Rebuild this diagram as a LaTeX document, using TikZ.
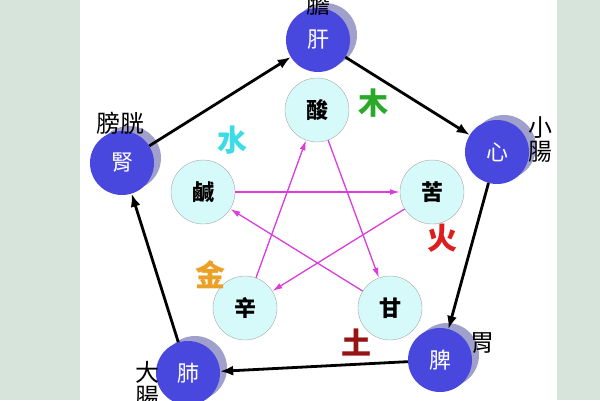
\documentclass[tikz,border=0pt]{standalone}
\usepackage{fontspec}
\newfontfamily\cjk{Noto Sans CJK TC}
\usetikzlibrary{arrows.meta}
\definecolor{organ}{RGB}{72,72,222}
\definecolor{organside}{RGB}{160,160,205}
\definecolor{taste}{RGB}{214,250,250}
\definecolor{stripe}{RGB}{214,228,220}
\definecolor{star}{RGB}{220,60,220}
\tikzset{
  organnode/.style={circle,minimum size=64pt,inner sep=0pt,fill=organ,text=white,
    font=\cjk\fontsize{22}{22}\selectfont,
    preaction={fill=organside,transform canvas={shift={(7pt,5pt)}}}},
  tastenode/.style={circle,minimum size=64pt,inner sep=0pt,draw=gray!70,fill=taste,
    font=\cjk\bfseries\fontsize{22}{22}\selectfont},
  element/.style={font=\cjk\bfseries\fontsize{30}{30}\selectfont},
  side/.style={font=\cjk\fontsize{24}{24}\selectfont,inner sep=0pt},
  cycle/.style={line width=2.8pt,-{Latex[length=13pt,width=10pt]}},
  check/.style={line width=1.3pt,star,-{Latex[length=10pt,width=6pt]}}
}
\begin{document}
\begin{tikzpicture}[x=1pt,y=-1pt]
\useasboundingbox (0,0) rectangle (600,400);
\fill[stripe] (0,0) rectangle (80,400);
\fill[stripe] (557,0) rectangle (600,400);
% organs
\node[organnode] (gan) at (318,40) {肝};
\node[organnode] (xin) at (497,152) {心};
\node[organnode] (pi) at (440,360) {脾};
\node[organnode] (fei) at (188,373) {肺};
\node[organnode] (shen) at (122,163) {腎};
\node[side] (dan) at (318,4) {膽};
\node[side,align=center] (xc) at (540,140) {小\\腸};
\node[side] (wei) at (482,343) {胃};
\node[side,align=center] (dc) at (147,384) {大\\腸};
\node[side] (pg) at (120,123) {膀胱};
% tastes
\node[tastenode] (suan) at (317,110) {酸};
\node[tastenode] (ku) at (432,192) {苦};
\node[tastenode] (gan2) at (390,308) {甘};
\node[tastenode] (xinw) at (245,308) {辛};
\node[tastenode] (xian) at (203,192) {鹹};
\node[element,text={rgb,255:red,40;green,170;blue,40}] (mu) at (373,103) {木};
\node[element,text={rgb,255:red,60;green,220;blue,230}] (shui) at (232,140) {水};
\node[element,text={rgb,255:red,220;green,30;blue,30}] (huo) at (442,238) {火};
\node[element,text={rgb,255:red,235;green,160;blue,40}] (jin) at (210,275) {金};
\node[element,text={rgb,255:red,150;green,20;blue,20}] (tu) at (356,342) {土};
% generating cycle
\draw[cycle] (gan) -- (xin);
\draw[cycle] (xin) -- (pi);
\draw[cycle] (pi) -- (fei);
\draw[cycle] (fei) -- (shen);
\draw[cycle] (shen) -- (gan);
% controlling star
\draw[check] (suan) -- (gan2);
\draw[check] (gan2) -- (xian);
\draw[check] (xian) -- (ku);
\draw[check] (ku) -- (xinw);
\draw[check] (xinw) -- (suan);
\end{tikzpicture}
\end{document}
